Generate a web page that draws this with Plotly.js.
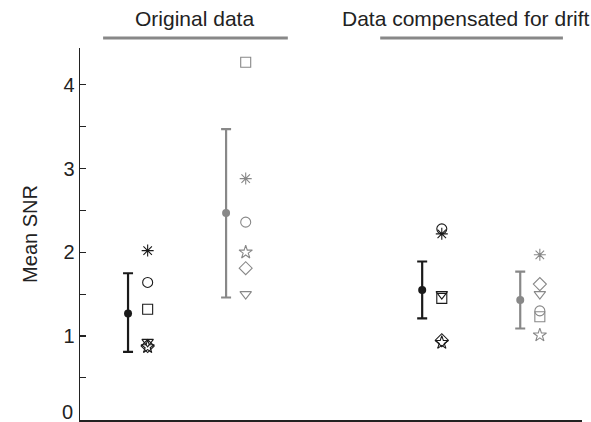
<!DOCTYPE html>
<html>
<head>
<meta charset="utf-8">
<script src="https://cdn.plot.ly/plotly-3.0.1.min.js"></script>
<style>html,body{margin:0;padding:0;background:#fff;}#chart{width:591px;height:422px;}</style>
</head>
<body>
<div id="chart"></div>
<script>
// Group positions on the x axis
const groupX = [1, 2, 4, 5];
const groupNames = ["Original (black)", "Original (gray)", "Compensated (black)", "Compensated (gray)"];
const groupColors = ["#1a1a1a", "#888888", "#1a1a1a", "#888888"];

// Mean SNR and error bar extents per group
const meanSNR = [1.27, 2.47, 1.55, 1.43];
const errUpper = [0.48, 1.00, 0.34, 0.34];
const errLower = [0.46, 1.01, 0.34, 0.34];

// Individual values, one array per marker symbol (groups 1..4)
const valAsterisk = [2.02, 2.88, 2.22, 1.97];
const valCircle   = [1.64, 2.36, 2.28, 1.30];
const valSquare   = [1.32, 4.27, 1.45, 1.23];
const valTriangle = [0.93, 1.50, 1.50, 1.50];
const valDiamond  = [0.88, 1.81, 0.95, 1.62];
const valStar     = [0.87, 2.00, 0.92, 1.01];

// Y tick values and labels (the "0" label sits on the figure's bottom edge, drawn as an annotation)
const yTickVals = [0, 0.5, 1, 1.5, 2, 2.5, 3, 3.5, 4];
const yTickText = ["", "", "1", "", "2", "", "3", "", "4"];
const yZeroLabel = "0";

const pointOffset = 0.2;
const FONT = "Liberation Sans, Arial, sans-serif";

const traces = [];
groupX.forEach((gx, i) => {
  traces.push({
    type: "scatter", mode: "markers",
    x: [gx], y: [meanSNR[i]],
    name: groupNames[i],
    marker: {color: groupColors[i], size: 8},
    error_y: {type: "data", symmetric: false, array: [errUpper[i]], arrayminus: [errLower[i]],
              color: groupColors[i], thickness: 2.2, width: 5},
    showlegend: false, hoverinfo: "y"
  });
});

const symbolSets = [
  {vals: valAsterisk, sym: "asterisk-open"},
  {vals: valCircle, sym: "circle-open"},
  {vals: valSquare, sym: "square-open"},
  {vals: valTriangle, sym: "triangle-down-open"},
  {vals: valDiamond, sym: "diamond-open"},
  {vals: valStar, sym: "star-open"}
];
symbolSets.forEach(s => {
  traces.push({
    type: "scatter", mode: "markers",
    x: groupX.map(g => g + pointOffset), y: s.vals,
    marker: {symbol: s.sym, size: 10, color: groupColors, line: {color: groupColors, width: 1.1}},
    showlegend: false, hoverinfo: "y"
  });
});

const layout = {
  width: 591, height: 422,
  margin: {l: 80, r: 9, t: 48, b: 2, pad: 0},
  paper_bgcolor: "#fff", plot_bgcolor: "#fff",
  font: {family: FONT, size: 20, color: "#222"},
  showlegend: false,
  xaxis: {range: [0.51, 5.63], showgrid: false, zeroline: false, showticklabels: false,
          ticks: "", showline: true, linecolor: "#222", linewidth: 1.5, fixedrange: true},
  yaxis: {range: [-0.003, 4.44], showgrid: false, zeroline: false, showline: true, linecolor: "#222", linewidth: 1.5,
          ticks: "inside", ticklen: 6, tickcolor: "#222", tickwidth: 1.2,
          tickvals: yTickVals, ticktext: yTickText,
          tickfont: {size: 20, color: "#222"},
          title: {text: "Mean SNR", font: {size: 20, color: "#222"}, standoff: 20}},
  annotations: [
    {text: "Original data", xref: "paper", yref: "paper", x: 0.228, y: 1.08, xanchor: "center", yanchor: "middle",
     showarrow: false, font: {size: 21, color: "#222"}},
    {text: "Data compensated for drift", xref: "paper", yref: "paper", x: 0.768, y: 1.08, xanchor: "center", yanchor: "middle",
     showarrow: false, font: {size: 21, color: "#222"}},
    {text: yZeroLabel, xref: "paper", yref: "y", x: 0, y: 0, xanchor: "right", yanchor: "bottom", xshift: -5, yshift: -5,
     showarrow: false, font: {size: 20, color: "#222"}}
  ],
  shapes: [
    {type: "line", xref: "paper", yref: "paper", x0: 0.046, x1: 0.414, y0: 1.027, y1: 1.027, line: {color: "#888", width: 3}},
    {type: "line", xref: "paper", yref: "paper", x0: 0.598, x1: 0.962, y0: 1.027, y1: 1.027, line: {color: "#888", width: 3}}
  ]
};

Plotly.newPlot("chart", traces, layout, {displayModeBar: false, staticPlot: true});
</script>
</body>
</html>
